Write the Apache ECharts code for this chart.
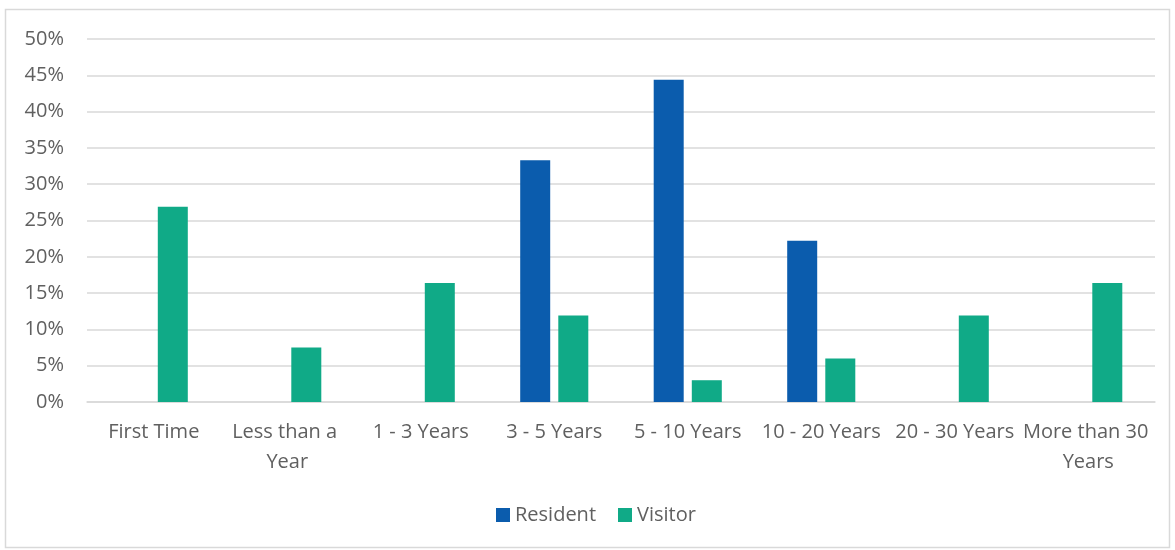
<!DOCTYPE html>
<html>
<head>
<meta charset="utf-8">
<script src="https://cdn.jsdelivr.net/npm/echarts@6/dist/echarts.min.js"></script>
<style>
  html, body { margin: 0; padding: 0; background: #fff; }
  #chart { width: 1175px; height: 550px; }
</style>
</head>
<body>
<div id="chart"></div>
<script>
// Length of relationship with the area, share of respondents by group
const categories = ['First Time', 'Less than a Year', '1 - 3 Years', '3 - 5 Years',
                    '5 - 10 Years', '10 - 20 Years', '20 - 30 Years', 'More than 30 Years'];
const residentValues = [0, 0, 0, 33.3, 44.4, 22.2, 0, 0];
const visitorValues = [26.9, 7.5, 16.4, 11.9, 3.0, 6.0, 11.9, 16.4];
const yTicks = { min: 0, max: 50, interval: 5 };

const FONT = '"Open Sans", Lato, sans-serif';
const TEXT = '#606060';

const chart = echarts.init(document.getElementById('chart'));
chart.setOption({
  animation: false,
  textStyle: { fontFamily: FONT },
  graphic: [{
    type: 'rect',
    silent: true,
    shape: { x: 5.5, y: 9.5, width: 1164, height: 538 },
    style: { fill: 'none', stroke: '#D9D9D9', lineWidth: 1.5 }
  }],
  grid: { left: 87, right: 20, top: 39, bottom: 148, containLabel: false },
  legend: {
    bottom: 20,
    left: 491,
    itemWidth: 14,
    itemHeight: 14,
    itemGap: 22,
    icon: 'rect',
    textStyle: { fontSize: 20, color: TEXT, fontFamily: FONT },
    data: ['Resident', 'Visitor']
  },
  xAxis: {
    type: 'category',
    data: categories,
    axisLine: { lineStyle: { color: '#D9D9D9', width: 1.5 } },
    axisTick: { show: false },
    axisLabel: {
      interval: 0,
      color: TEXT,
      fontSize: 20,
      fontFamily: FONT,
      margin: 15,
      lineHeight: 30,
      width: 134,
      overflow: 'break'
    }
  },
  yAxis: {
    type: 'value',
    min: yTicks.min,
    max: yTicks.max,
    interval: yTicks.interval,
    axisLine: { show: false },
    axisTick: { show: false },
    splitLine: { lineStyle: { color: '#D9D9D9', width: 1.5 } },
    axisLabel: {
      color: TEXT,
      fontSize: 20,
      fontFamily: FONT,
      margin: 23,
      formatter: v => v + '%'
    }
  },
  series: [
    {
      name: 'Resident',
      type: 'bar',
      data: residentValues,
      barWidth: 30,
      barGap: '27%',
      itemStyle: { color: '#0B5CAD' }
    },
    {
      name: 'Visitor',
      type: 'bar',
      data: visitorValues,
      barWidth: 30,
      barGap: '27%',
      itemStyle: { color: '#10AA87' }
    }
  ]
});
</script>
</body>
</html>
